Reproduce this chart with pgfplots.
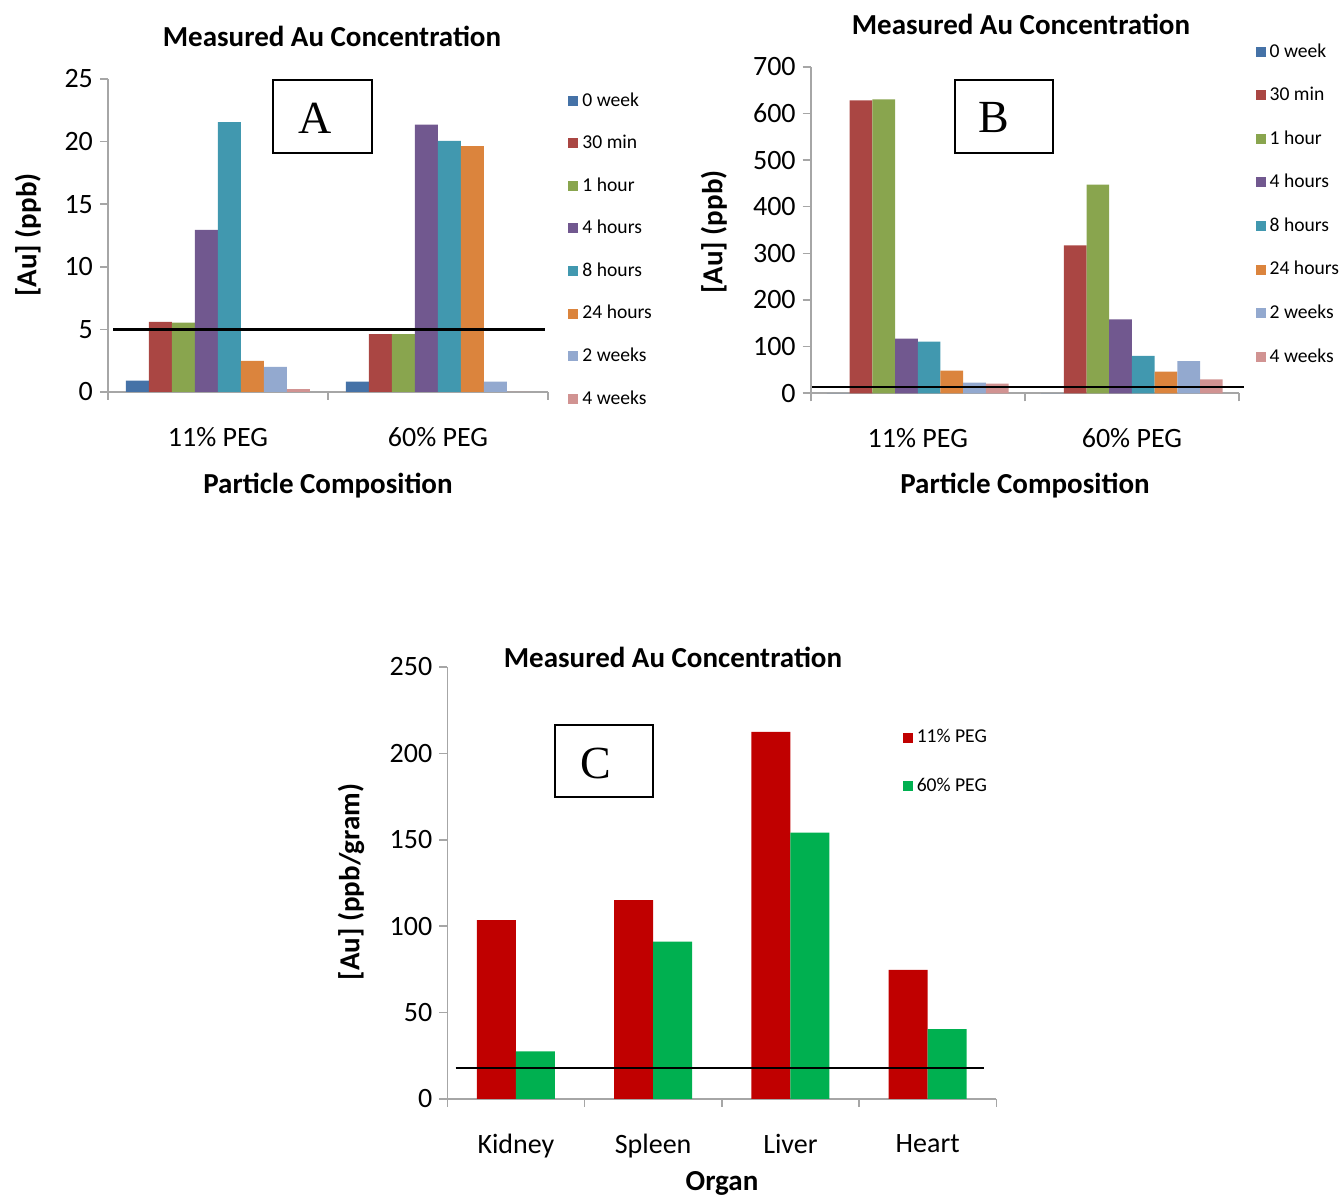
\documentclass[border=0pt]{standalone}
\usepackage{pgfplots}
\pgfplotsset{compat=1.18}
\usepackage{fontspec}
\setmainfont{Carlito}
\newfontfamily\serif{Liberation Serif}

\definecolor{c1}{HTML}{4572A7}
\definecolor{c2}{HTML}{AA4643}
\definecolor{c3}{HTML}{89A54E}
\definecolor{c4}{HTML}{71588F}
\definecolor{c5}{HTML}{4198AF}
\definecolor{c6}{HTML}{DB843D}
\definecolor{c7}{HTML}{93A9CF}
\definecolor{c8}{HTML}{D19392}
\definecolor{cred}{HTML}{C00000}
\definecolor{cgreen}{HTML}{00B050}
\definecolor{axgray}{HTML}{A6A6A6}

% excel-ish look shared by the three panels
\pgfplotsset{
  excel/.style={
    scale only axis, anchor=south west, clip=false,
    ybar=0pt, ymin=0,
    axis lines*=left, axis line style={axgray, line width=0.8pt, -},
    tick align=outside, major tick length=4pt, minor tick length=4pt,
    tick style={axgray, line width=0.8pt},
    every major x tick/.append style={draw=none},
    /pgf/number format/assume math mode=true,
    tick label style={font=\fontsize{14}{17}\selectfont},
    xticklabel style={yshift=-10pt},
    legend cell align=left,
    legend image code/.code={\fill[##1] (0pt,-2.5pt) rectangle (5pt,2.5pt);},
    legend style={draw=none, fill=none, anchor=north west,
      font=\fontsize{9.8}{12}\selectfont, row sep=9pt},
    every axis plot/.append style={draw=none},
  },
  thr/.style={sharp plot, draw=black, line width=1.2pt, forget plot},
}

\begin{document}
\begin{tikzpicture}
\path[use as bounding box] (0,0) rectangle (670.5pt,-598.5pt);

% ---- A ----
\begin{axis}[excel, at={(54pt,-196pt)}, width=220pt, height=156.5pt,
  xmin=-0.5, xmax=1.5, ymax=25, ytick={0,5,...,25},
  xtick={0,1}, xticklabels={11\% PEG, 60\% PEG}, minor xtick={-0.5,0.5,1.5},
  bar width=11.5pt,
  legend style={at={(1.032,0.984)}},
]
\addplot[fill=c1] coordinates {(0,0.9) (1,0.83)};
\addplot[fill=c2] coordinates {(0,5.6) (1,4.63)};
\addplot[fill=c3] coordinates {(0,5.55) (1,4.63)};
\addplot[fill=c4] coordinates {(0,12.95) (1,21.35)};
\addplot[fill=c5] coordinates {(0,21.55) (1,20.06)};
\addplot[fill=c6] coordinates {(0,2.48) (1,19.64)};
\addplot[fill=c7] coordinates {(0,2.0) (1,0.83)};
\addplot[fill=c8] coordinates {(0,0.22) (1,0)};
\legend{0 week,30 min,1 hour,4 hours,8 hours,24 hours,2 weeks,4 weeks}
\addplot[thr] coordinates {(-0.477,5) (1.486,5)};
\end{axis}

% ---- B ----
\begin{axis}[excel, at={(405.35pt,-196.65pt)}, width=214.15pt, height=163.3pt,
  xmin=-0.5, xmax=1.5, ymax=700, ytick={0,100,...,700},
  xtick={0,1}, xticklabels={11\% PEG, 60\% PEG}, minor xtick={-0.5,0.5,1.5},
  bar width=11.35pt,
  legend style={at={(1.024,1.097)}, row sep=9.5pt},
]
\addplot[fill=c1] coordinates {(0,0) (1,0)};
\addplot[fill=c2] coordinates {(0,628) (1,317)};
\addplot[fill=c3] coordinates {(0,630) (1,447)};
\addplot[fill=c4] coordinates {(0,117) (1,158.6)};
\addplot[fill=c5] coordinates {(0,110.6) (1,80)};
\addplot[fill=c6] coordinates {(0,48.5) (1,46.3)};
\addplot[fill=c7] coordinates {(0,22.8) (1,69)};
\addplot[fill=c8] coordinates {(0,20.6) (1,30)};
\legend{0 week,30 min,1 hour,4 hours,8 hours,24 hours,2 weeks,4 weeks}
\addplot[thr] coordinates {(-0.494,13) (1.523,13)};
\end{axis}

% ---- C ----
\begin{axis}[excel, at={(223.65pt,-549.5pt)}, width=274.5pt, height=216pt,
  xmin=-0.5, xmax=3.5, ymax=250, ytick={0,50,...,250},
  xtick={0,1,2,3}, xticklabels={Kidney,Spleen,Liver,Heart},
  minor xtick={-0.5,0.5,1.5,2.5,3.5},
  bar width=19.5pt,
  legend style={at={(0.818,0.875)}, row sep=12pt},
]
\addplot[fill=cred] coordinates {(0,103.5) (1,115.1) (2,212.4) (3,74.7)};
\addplot[fill=cgreen] coordinates {(0,27.6) (1,91.1) (2,154.2) (3,40.5)};
\legend{11\% PEG,60\% PEG}
\addplot[thr] coordinates {(-0.44,18.1) (3.41,18.1)};
\end{axis}

% titles and axis names
\begin{scope}[every node/.style={font=\bfseries\fontsize{14.5}{17}\selectfont}]
\node at (166pt,-18pt) {Measured Au Concentration};
\node at (510.5pt,-12pt) {Measured Au Concentration};
\node at (336.5pt,-328.5pt) {Measured Au Concentration};
\node at (164pt,-243pt) {Particle Composition};
\node at (512.5pt,-243pt) {Particle Composition};
\node at (361pt,-591.5pt) {Organ};
\node[rotate=90] at (14pt,-117.5pt) {[Au] (ppb)};
\node[rotate=90] at (357pt,-116pt) {[Au] (ppb)};
\node[rotate=90] at (175.5pt,-441pt) {[Au] (ppb/gram)};
\end{scope}

% panel letters
\draw[line width=1pt] (136.5pt,-40pt) rectangle (186pt,-76.5pt);
\node[font=\serif\fontsize{23}{27}\selectfont] at (157.5pt,-59.25pt) {A};
\draw[line width=1pt] (477.5pt,-40pt) rectangle (526.5pt,-76.5pt);
\node[font=\serif\fontsize{23}{27}\selectfont] at (497pt,-59pt) {B};
\draw[line width=1pt] (277.5pt,-362.5pt) rectangle (326.5pt,-398.5pt);
\node[font=\serif\fontsize{23}{27}\selectfont] at (298pt,-381.75pt) {C};
\end{tikzpicture}
\end{document}
